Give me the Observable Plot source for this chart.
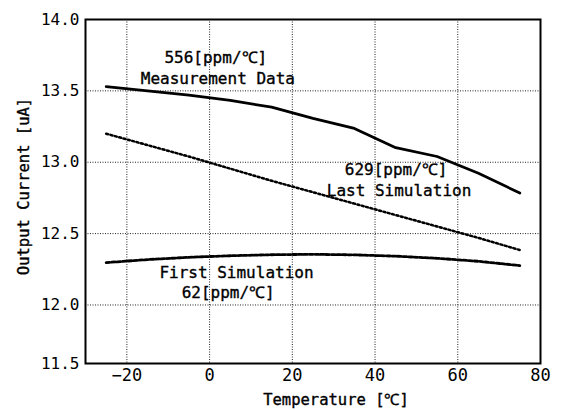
<!DOCTYPE html>
<html><head><meta charset="utf-8">
<script src="https://cdn.jsdelivr.net/npm/d3@7"></script>
<script src="https://cdn.jsdelivr.net/npm/@observablehq/plot@0.6"></script>
<style>body{margin:0;background:#fff}</style>
</head><body><div id="chart"></div>
<script>
const temperatures = [-25, -15, -5, 5, 15, 25, 35, 45, 55, 65, 75];
const measurementData = [13.53, 13.50, 13.47, 13.433, 13.386, 13.307, 13.237, 13.102, 13.04, 12.923, 12.784];
const lastSimulation = [13.20, 13.12, 13.04, 12.955, 12.87, 12.79, 12.71, 12.63, 12.55, 12.47, 12.385];
const firstSimulation = [12.297, 12.318, 12.334, 12.345, 12.352, 12.355, 12.351, 12.342, 12.327, 12.306, 12.276];
const xTicks = [-20, 0, 20, 40, 60, 80];
const yTickValues = [11.59, 12.0, 12.5, 13.0, 13.5, 14.0];
const yTickLabels = ["11.5", "12.0", "12.5", "13.0", "13.5", "14.0"];
const annotationText = ["556[ppm/℃]", "Measurement Data", "629[ppm/℃]", "Last Simulation", "First Simulation", "62[ppm/℃]"];
const annotationX = [1.5, 2.0, 45.1, 45.8, 6.5, 4.5];
const annotationY = [13.73, 13.587, 12.947, 12.80, 12.224, 12.084];
const xLabel = "Temperature [℃]";
const yLabel = "Output Current [uA]";

const rows = temperatures.map((t, i) => ({t, m: measurementData[i], last: lastSimulation[i], first: firstSimulation[i]}));
const notes = annotationText.map((s, i) => ({s, x: annotationX[i], y: annotationY[i]}));
const font = "DejaVu Sans Mono";
const ink = {fill: "#000", stroke: "#000", strokeWidth: 0.35};

const chart = Plot.plot({
  width: 563, height: 410,
  marginLeft: 85, marginRight: 23, marginTop: 19, marginBottom: 47,
  x: {domain: [-30, 80]},
  y: {domain: [11.59, 14]},
  style: {fontFamily: font, fontSize: "16px", color: "#000", background: "#fff"},
  marks: [
    Plot.ruleX(xTicks.filter(t => t > -30 && t < 80), {stroke: "#222", strokeWidth: 1, strokeDasharray: "1,1.5"}),
    Plot.ruleY(yTickValues.filter(t => t > 11.59 && t < 14), {stroke: "#222", strokeWidth: 1, strokeDasharray: "1,1.5"}),
    Plot.axisX(xTicks, {tickSize: 0, tickPadding: 5, label: null, fontSize: 17, ...ink}),
    Plot.axisY(yTickValues, {tickSize: 0, tickPadding: 6, label: null, fontSize: 16, ...ink,
      tickFormat: d => yTickLabels[yTickValues.indexOf(d)]}),
    Plot.line(rows, {x: "t", y: "m", stroke: "#000", strokeWidth: 2.7}),
    Plot.line(rows, {x: "t", y: "last", stroke: "#000", strokeWidth: 2.5, strokeDasharray: "2,2.5"}),
    Plot.line(rows, {x: "t", y: "first", stroke: "#000", strokeWidth: 2.8, strokeDasharray: "3.5,2"}),
    Plot.text(notes, {x: "x", y: "y", text: "s", fontSize: 16, ...ink}),
    Plot.text([xLabel], {frameAnchor: "bottom", textAnchor: "middle", dx: 23, dy: 41, fontSize: 15.5, ...ink}),
    Plot.text([yLabel], {frameAnchor: "left", textAnchor: "middle", lineAnchor: "middle", rotate: -90, dx: -61, dy: -5, fontSize: 15.5, ...ink}),
    Plot.frame({stroke: "#000", strokeWidth: 2})
  ]
});
document.getElementById("chart").append(chart);
</script>
</body></html>
